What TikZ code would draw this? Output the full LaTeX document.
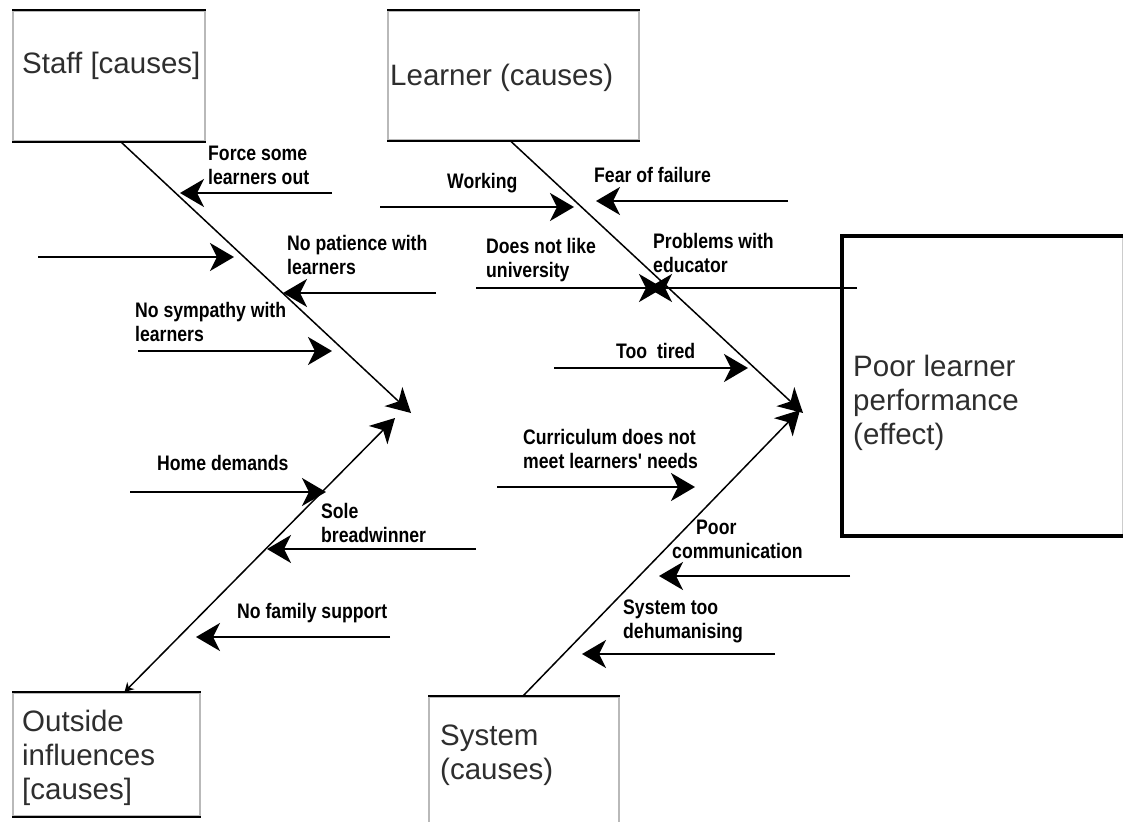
\documentclass[tikz,border=0pt]{standalone}
\usepackage{fontspec}
\setmainfont{Liberation Sans}
\newfontfamily\lblfont[FakeStretch=0.84]{Liberation Sans Bold}
\usetikzlibrary{arrows.meta}
\tikzset{
  boxframe/.style={draw=gray!55, line width=2pt, rectangle, inner sep=0pt, anchor=north west},
  boxtext/.style={anchor=north west, inner sep=0pt, align=left, text=black!82,
     font=\fontsize{29.5}{34}\selectfont},
  lbl/.style={anchor=north west, inner sep=0pt, align=left,
     font=\lblfont\fontsize{21}{24}\selectfont},
  cause/.style={line width=2.2pt, -{Stealth[length=24pt,width=28pt,inset=7pt]}},
  bone/.style={line width=1.5pt, -{Stealth[length=24pt,width=26pt,inset=7pt]}},
}
\begin{document}
\begin{tikzpicture}[x=1pt,y=-1pt]
\useasboundingbox (0,0) rectangle (1123,821);
\fill[white] (0,0) rectangle (1123,821);

% ---------- boxes ----------
\node[boxframe, minimum width=192pt, minimum height=130pt] (staff) at (12,10) {};
\draw[line width=2.5pt] (staff.north west) -- (staff.north east);
\draw[line width=2.5pt] (staff.south west) -- (staff.south east);
\node[boxtext] (stafft) at (22,52) {Staff [causes]};

\node[boxframe, minimum width=251pt, minimum height=129pt] (learner) at (387,10) {};
\draw[line width=2.5pt] (learner.north west) -- (learner.north east);
\draw[line width=2.5pt] (learner.south west) -- (learner.south east);
\node[boxtext] (learnert) at (390,64) {Learner (causes)};

\node[boxframe, minimum width=187pt, minimum height=123pt] (outside) at (12,692) {};
\draw[line width=1.2pt] (outside.north west) -- (outside.north east);
\draw[line width=2pt] (outside.south west) -- (outside.south east);
\node[boxtext] (outsidet) at (22,710) {Outside\\influences\\[0pt][causes]};

\node[boxframe, minimum width=190pt, minimum height=130pt] (system) at (428,696) {};
\draw[line width=2pt] (system.north west) -- (system.north east);
\node[boxtext] (systemt) at (440,725) {System\\(causes)};

\node[draw=gray!40, line width=1pt, rectangle, inner sep=0pt, anchor=north west,
      minimum width=280pt, minimum height=299pt] (effect) at (842,236) {};
\draw[line width=4pt] (effect.north east) -- (effect.north west) -- (effect.south west) -- (effect.south east);
\node[boxtext] (effectt) at (853,355) {Poor learner\\performance\\(effect)};

% ---------- bone tips ----------
\coordinate (stip) at (411,413);
\coordinate (otip) at (395,418);
\coordinate (ltip) at (803,413);
\coordinate (ytip) at (800,410);

% ---------- bones ----------
\draw[bone] ([xshift=12pt]staff.south) -- (stip);
\draw[bone, {Stealth[length=9pt,width=10pt]}-{Stealth[length=24pt,width=26pt,inset=7pt]}]
      ([xshift=18pt]outside.north) -- (otip);
\draw[bone] ([xshift=-3pt]learner.south) -- (ltip);
\draw[bone] ([xshift=-1pt]system.north) -- (ytip);

% ---------- causes: staff ----------
\coordinate (a1s) at (332,193); \coordinate (a1e) at (180,193);
\draw[cause] (a1s) -- (a1e);
\node[lbl] (l1) at (208,146) {Force some\\learners out};

\coordinate (a2s) at (38,257); \coordinate (a2e) at (234,257);
\draw[cause] (a2s) -- (a2e);

\coordinate (a3s) at (436,293); \coordinate (a3e) at (283,293);
\draw[cause] (a3s) -- (a3e);
\node[lbl] (l3) at (287,235) {No patience with\\learners};

\coordinate (a4s) at (138,351); \coordinate (a4e) at (332,351);
\draw[cause] (a4s) -- (a4e);
\node[lbl] (l4) at (135,302) {No sympathy with\\learners};

% ---------- causes: learner ----------
\coordinate (b1s) at (380,207); \coordinate (b1e) at (574,207);
\draw[cause] (b1s) -- (b1e);
\node[lbl] (m1) at (447,173) {Working};

\coordinate (b2s) at (788,201); \coordinate (b2e) at (596,201);
\draw[cause] (b2s) -- (b2e);
\node[lbl] (m2) at (594,167) {Fear of failure};

\coordinate (b3s) at (476,288); \coordinate (b3e) at (663,288);
\draw[cause] (b3s) -- (b3e);
\node[lbl] (m3) at (486,238) {Does not like\\university};

\coordinate (b4s) at (857,288); \coordinate (b4e) at (648,288);
\draw[cause] (b4s) -- (b4e);
\node[lbl] (m4) at (653,233) {Problems with\\educator};

\coordinate (b5s) at (554,368); \coordinate (b5e) at (748,368);
\draw[cause] (b5s) -- (b5e);
\node[lbl] (m5) at (616,343) {Too\ \ tired};

% ---------- causes: outside ----------
\coordinate (c1s) at (130,492); \coordinate (c1e) at (326,492);
\draw[cause] (c1s) -- (c1e);
\node[lbl] (n1) at (157,455) {Home demands};

\coordinate (c2s) at (476,549); \coordinate (c2e) at (267,549);
\draw[cause] (c2s) -- (c2e);
\node[lbl] (n2) at (321,503) {Sole\\breadwinner};

\coordinate (c3s) at (390,637); \coordinate (c3e) at (196,637);
\draw[cause] (c3s) -- (c3e);
\node[lbl] (n3) at (237,603) {No family support};

% ---------- causes: system ----------
\coordinate (d1s) at (497,487); \coordinate (d1e) at (695,487);
\draw[cause] (d1s) -- (d1e);
\node[lbl] (p1) at (523,429) {Curriculum does not\\meet learners' needs};

\coordinate (d2s) at (850,576); \coordinate (d2e) at (659,576);
\draw[cause] (d2s) -- (d2e);
\node[lbl] (p2) at (672,520) {\hspace{24pt}Poor\\communication};

\coordinate (d3s) at (775,654); \coordinate (d3e) at (582,654);
\draw[cause] (d3s) -- (d3e);
\node[lbl] (p3) at (623,600) {System too\\dehumanising};
\end{tikzpicture}
\end{document}
